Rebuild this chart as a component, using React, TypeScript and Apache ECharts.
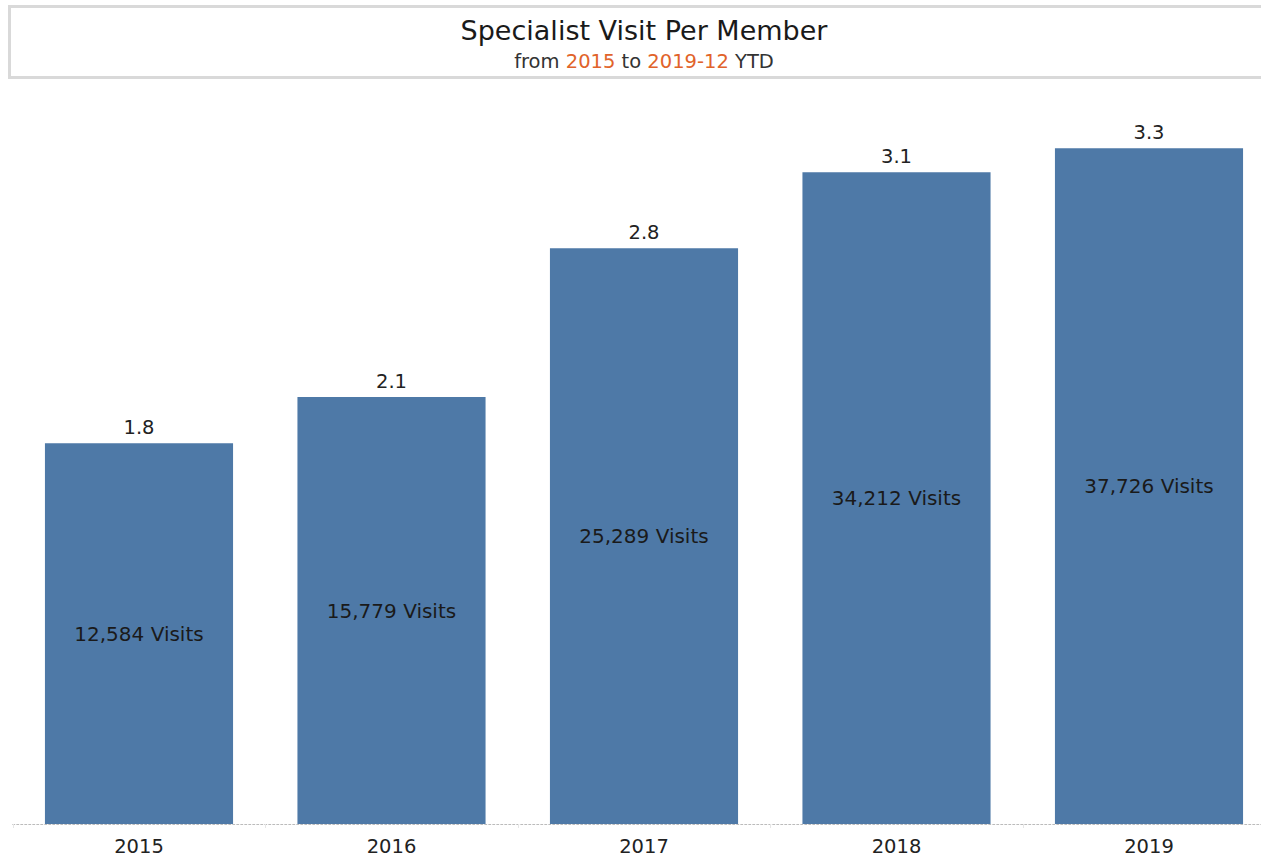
import React, { useEffect, useRef } from "react";
import * as echarts from "echarts";

const years = ["2015", "2016", "2017", "2018", "2019"];
const visitsPerMember = [1.836, 2.058, 2.776, 3.142, 3.258];
const visits = [12584, 15779, 25289, 34212, 37726];

const FONT = "DejaVu Sans";

export default function App() {
  const ref = useRef<HTMLDivElement>(null);
  useEffect(() => {
    const chart = echarts.init(ref.current!, null, { renderer: "svg" });
    chart.setOption({
      animation: false,
      backgroundColor: "#ffffff",
      graphic: [
        {
          type: "rect",
          shape: { x: 9.5, y: 6.5, width: 1275, height: 71 },
          style: { fill: "#ffffff", stroke: "#d9d9d9", lineWidth: 3 },
          silent: true,
        },
        {
          type: "text",
          x: 644,
          y: 30,
          style: {
            text: "Specialist Visit Per Member",
            fill: "#1a1a1a",
            font: `27px "${FONT}"`,
            textAlign: "center",
            textVerticalAlign: "middle",
          },
        },
        {
          type: "text",
          x: 644,
          y: 61,
          style: {
            text: "{d|from }{o|2015}{d| to }{o|2019-12}{d| YTD}",
            textAlign: "center",
            textVerticalAlign: "middle",
            rich: {
              d: { fill: "#333333", font: `19.5px "${FONT}"` },
              o: { fill: "#e1632a", font: `19.5px "${FONT}"` },
            },
          },
        },
      ],
      grid: { left: 12.75, width: 1262.5, top: 98, height: 726 },
      xAxis: {
        type: "category",
        data: years,
        axisLine: { show: true, lineStyle: { color: "#bbbbbb", type: [2, 2], width: 1 } },
        axisTick: { show: true, length: 4, lineStyle: { color: "#e6e6e6" } },
        axisLabel: { color: "#222222", fontSize: 19.5, fontFamily: FONT, margin: 12 },
      },
      yAxis: {
        type: "value",
        min: 0,
        max: 3.5,
        show: false,
        splitLine: { show: false },
      },
      series: [
        {
          type: "bar",
          data: visitsPerMember,
          barCategoryGap: "25.5%",
          itemStyle: { color: "#4e79a7" },
          label: {
            show: true,
            position: "top",
            distance: 6,
            color: "#222222",
            fontSize: 19.5,
            fontFamily: FONT,
            formatter: (p: any) => p.value.toFixed(1),
          },
          z: 2,
        },
        {
          type: "bar",
          data: visitsPerMember,
          barGap: "-100%",
          barCategoryGap: "25.5%",
          itemStyle: { color: "rgba(0,0,0,0)" },
          label: {
            show: true,
            position: "inside",
            color: "#1a1a1a",
            fontSize: 20,
            fontFamily: FONT,
            formatter: (p: any) => visits[p.dataIndex].toLocaleString("en-US") + " Visits",
          },
          z: 3,
        },
      ],
    });
    return () => chart.dispose();
  }, []);
  return (
    <div
      style={{ position: "absolute", left: 0, top: 0, width: 1261, height: 857, overflow: "hidden" }}
    >
      <div ref={ref} style={{ width: 1290, height: 857 }} />
    </div>
  );
}
